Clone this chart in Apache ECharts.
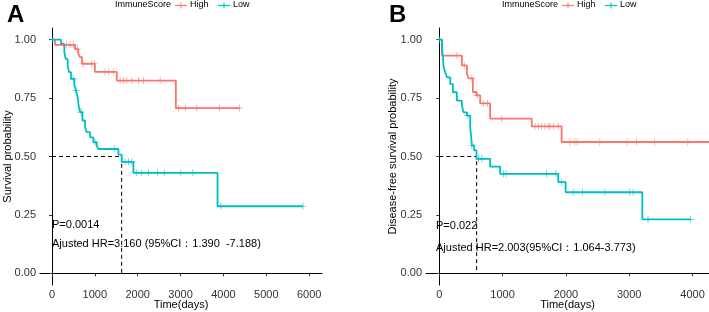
<!DOCTYPE html>
<html>
<head>
<meta charset="utf-8">
<script src="https://cdn.jsdelivr.net/npm/echarts@6/dist/echarts.min.js"></script>
<style>
  html, body { margin: 0; padding: 0; background: #fff; }
  #chart { width: 709px; height: 312px; }
</style>
</head>
<body>
<div id="chart"></div>
<script>
// ---- panel A: overall survival ----
var aHighTimes = [0, 70, 537, 615, 650, 700, 1000, 1511, 2890, 4376];
var aHighSurv  = [1, 0.978, 0.96, 0.94, 0.925, 0.897, 0.862, 0.825, 0.707, 0.707];
var aHighCens  = [264, 343, 420, 498, 590, 720, 927, 988, 1238, 1316, 1432, 1589, 1666, 1745, 1862, 2016, 2133, 2523, 2952, 3107, 3380, 3902, 4376];

var aLowTimes = [0, 210, 288, 319, 366, 397, 444, 522, 561, 600, 615, 654, 709, 771, 810, 888, 966, 1044, 1083, 1550, 1625, 1900, 3862, 5857];
var aLowSurv  = [1, 0.982, 0.946, 0.918, 0.889, 0.861, 0.832, 0.804, 0.782, 0.754, 0.725, 0.69, 0.654, 0.625, 0.604, 0.582, 0.561, 0.547, 0.532, 0.508, 0.477, 0.43, 0.287, 0.287];
var aLowCens  = [20, 500, 561, 677, 1005, 1449, 1706, 1783, 1862, 1979, 2096, 2250, 2460, 2617, 3007, 3287, 3941, 5857];
var aMedian = 1625;

// ---- panel B: disease-free survival ----
var bHighTimes = [0, 42, 357, 436, 462, 530, 583, 646, 803, 1460, 1932, 4260];
var bHighSurv  = [1, 0.932, 0.89, 0.855, 0.834, 0.776, 0.762, 0.727, 0.662, 0.629, 0.562, 0.562];
var bHighCens  = [279, 394, 514, 600, 700, 760, 987, 1512, 1564, 1617, 1669, 1721, 1748, 1800, 1879, 2063, 2142, 2178, 2535, 2966, 3113, 3402, 3926];

var bLowTimes = [0, 42, 58, 68, 94, 121, 173, 215, 278, 357, 383, 436, 488, 504, 514, 551, 588, 803, 961, 1879, 1995, 3207, 3969];
var bLowSurv  = [1, 0.96, 0.924, 0.882, 0.86, 0.839, 0.81, 0.775, 0.739, 0.718, 0.689, 0.675, 0.625, 0.582, 0.547, 0.526, 0.49, 0.457, 0.426, 0.39, 0.347, 0.231, 0.231];
var bLowCens  = [5, 450, 514, 620, 672, 1013, 1055, 1696, 1843, 1932, 2115, 2262, 2614, 3008, 3060, 3297, 3969];
var bMedian = 590;

var aXTicks = [0, 1000, 2000, 3000, 4000, 5000, 6000];
var bXTicks = [0, 1000, 2000, 3000, 4000];
var yTicks = [0, 0.25, 0.5, 0.75, 1];
var groups = ['High', 'Low'];

var RED = '#F8766D', TEAL = '#00BFC4';
var groupColors = [RED, TEAL];
var FONT = 'Liberation Sans, Arial, sans-serif';
var PLUS = 'path://M-1,-0.1H1V0.1H-1Z M-0.1,-1H0.1V1H-0.1Z';

function stepData(times, surv) {
    return times.map(function(t, i) { return [t, surv[i]]; });
}

function survAt(times, surv, t) {
    var s = surv[0];
    for (var i = 0; i < times.length; i++) {
        if (times[i] <= t) s = surv[i];
    }
    return s;
}

function censorData(times, surv, cens) {
    return cens.map(function(t) { return [t, survAt(times, surv, t)]; });
}

function kmLine(name, idx, times, surv, color) {
    return {
        name: name, type: 'line', step: 'end',
        xAxisIndex: idx, yAxisIndex: idx,
        data: stepData(times, surv),
        showSymbol: false, symbol: 'none',
        lineStyle: { color: color, width: 1.8 },
        itemStyle: { color: color },
        z: 3
    };
}

function kmCensor(name, idx, times, surv, cens, color) {
    return {
        name: name, type: 'scatter',
        xAxisIndex: idx, yAxisIndex: idx,
        data: censorData(times, surv, cens),
        symbol: PLUS, symbolSize: 7,
        itemStyle: { color: color },
        z: 4
    };
}

function medianLine(idx, t) {
    return {
        type: 'line', xAxisIndex: idx, yAxisIndex: idx,
        data: [[0, 0.5], [t, 0.5], [t, 0]],
        showSymbol: false, symbol: 'none', silent: true,
        lineStyle: { color: '#000', width: 1, type: [4, 3] },
        z: 2
    };
}

function xAxis(idx, min, max, ticks) {
    return {
        type: 'value', gridIndex: idx, min: min, max: max,
        name: 'Time(days)', nameLocation: 'middle', nameGap: 14, nameMoveOverlap: false,
        nameTextStyle: { fontFamily: FONT, fontSize: 11, color: '#000' },
        axisLine: { show: true, lineStyle: { color: '#000', width: 1 } },
        axisTick: { show: true, length: 3, customValues: ticks, lineStyle: { color: '#333' } },
        axisLabel: {
            customValues: ticks, margin: 4, fontFamily: FONT, fontSize: 11, color: '#333',
            formatter: function(v) { return String(v); }
        },
        splitLine: { show: false }
    };
}

function yAxis(idx, name, gap) {
    return {
        type: 'value', gridIndex: idx, min: -0.05, max: 1.05,
        name: name, nameLocation: 'middle', nameGap: gap, nameMoveOverlap: false,
        nameTextStyle: { fontFamily: FONT, fontSize: 11, color: '#000' },
        axisLine: { show: true, lineStyle: { color: '#000', width: 1 } },
        axisTick: { show: true, length: 3, customValues: yTicks, lineStyle: { color: '#333' } },
        axisLabel: {
            customValues: yTicks, margin: 4, fontFamily: FONT, fontSize: 11, color: '#333',
            formatter: function(v) { return v.toFixed(2); }
        },
        splitLine: { show: false }
    };
}

function label(x, y, text, size, weight) {
    return {
        type: 'text', left: x, top: y,
        style: { text: text, fontFamily: FONT, fontSize: size, fontWeight: weight || 'normal', fill: '#000' }
    };
}

// legend drawn by hand: title, then a "-+-" key and the group name for each group
function legendKeys(x0, titleX) {
    var els = [label(titleX, 0, 'ImmuneScore', 9)];
    var x = x0;
    groups.forEach(function(g, i) {
        var c = groupColors[i];
        els.push({ type: 'line', shape: { x1: x, y1: 5.5, x2: x + 12, y2: 5.5 }, style: { stroke: c, lineWidth: 1.2 } });
        els.push({ type: 'line', shape: { x1: x + 6, y1: 2.5, x2: x + 6, y2: 8.5 }, style: { stroke: c, lineWidth: 1 } });
        els.push(label(x + 15, 0, g, 9));
        x += i === 0 ? 43 : 0;
    });
    return els;
}

var chart = echarts.init(document.getElementById('chart'));

var option = {
    animation: false,
    backgroundColor: '#fff',
    grid: [
        { left: 40, top: 28, width: 282, height: 257, outerBoundsMode: 'none' },
        { left: 426, top: 28, width: 283, height: 257, outerBoundsMode: 'none' }
    ],
    xAxis: [
        xAxis(0, -280, 6300, aXTicks),
        xAxis(1, -210, 4260, bXTicks)
    ],
    yAxis: [
        yAxis(0, 'Survival probability', 27),
        yAxis(1, 'Disease-free survival probability', 28)
    ],
    graphic: [
        label(7, 3, 'A', 24, 'bold'),
        label(389, 3, 'B', 24, 'bold'),
        label(52, 219, 'P=0.0014', 11),
        label(52, 238, 'Ajusted HR=3.160 (95%CI：1.390  -7.188)', 11),
        label(436, 220, 'P=0.022', 11),
        label(436, 242, 'Ajusted HR=2.003(95%CI：1.064-3.773)', 11)
    ].concat(legendKeys(175, 115), legendKeys(562, 502)),
    series: [
        medianLine(0, aMedian),
        kmLine('High', 0, aHighTimes, aHighSurv, RED),
        kmLine('Low', 0, aLowTimes, aLowSurv, TEAL),
        kmCensor('High', 0, aHighTimes, aHighSurv, aHighCens, RED),
        kmCensor('Low', 0, aLowTimes, aLowSurv, aLowCens, TEAL),
        medianLine(1, bMedian),
        kmLine('High', 1, bHighTimes, bHighSurv, RED),
        kmLine('Low', 1, bLowTimes, bLowSurv, TEAL),
        kmCensor('High', 1, bHighTimes, bHighSurv, bHighCens, RED),
        kmCensor('Low', 1, bLowTimes, bLowSurv, bLowCens, TEAL)
    ]
};

chart.setOption(option);
</script>
</body>
</html>
